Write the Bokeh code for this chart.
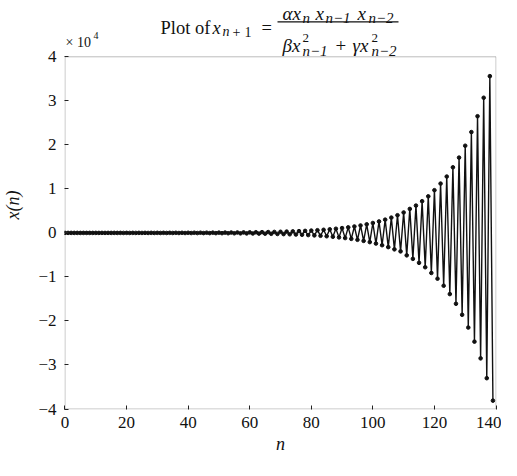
from bokeh.plotting import figure
from bokeh.models import Label, BoxAnnotation, FixedTicker, Range1d
from bokeh.embed import file_html
from bokeh.resources import INLINE

# ---- data ----
n_values = list(range(140))
x_values = [
    1.6, -1.7, 1.8, -2.0, 2.1, -2.3, 2.5, -2.6, 2.8, -3.1,
    3.3, -3.5, 3.8, -4.1, 4.4, -4.8, 5.1, -5.5, 6.0, -6.4,
    6.9, -7.4, 8.0, -8.6, 9.2, -9.9, 10.6, -11.4, 12.3, -13.2,
    14.2, -15.3, 16.4, -17.6, 19.0, -20.4, 21.9, -23.6, 25.3, -27.2,
    29.3, -31.5, 33.8, -36.4, 39.1, -42.0, 45.2, -48.6, 52.2, -56.1,
    60.3, -64.9, 69.7, -75.0, 80.6, -86.6, 93.1, -100, 108, -116,
    125, -134, 144, -155, 166, -179, 192, -207, 222, -239,
    257, -276, 297, -319, 343, -369, 397, -426, 458, -493,
    530, -569, 612, -658, 707, -760, 818, -879, 945, -1016,
    1092, -1174, 1262, -1357, 1458, -1568, 1685, -1812, 1948, -2094,
    2251, -2420, 2601, -2796, 3006, -3232, 3474, -3735, 4015, -4200,
    4640, -5100, 5450, -5900, 6200, -6800, 7200, -7800, 8300, -9100,
    9700, -10400, 11200, -12000, 12800, -13900, 14900, -16100, 17100, -18600,
    19800, -21500, 22900, -24700, 26500, -28500, 30700, -33000, 35600, -38100,
]
x_min, x_max = 0, 140
y_min, y_max = -40000, 40000
x_ticks = [0, 20, 40, 60, 80, 100, 120, 140]
y_ticks = [-40000, -30000, -20000, -10000, 0, 10000, 20000, 30000, 40000]
y_tick_labels = ["\u22124", "\u22123", "\u22122", "\u22121", "0", "1", "2", "3", "4"]

SERIF = "Liberation Serif"
W, H = 501, 460
BL, BR, BB = 63, 5, 51
FRAME_W = W - BL - BR
FRAME_H = H - BB               # frame reaches the top of the canvas
BOX_TOP = 56.3                 # canvas px where y_max sits
PADX = 0.5
py_per_unit = (FRAME_H - 0.5 - BOX_TOP) / (y_max - y_min)
px_per_unit = (FRAME_W - 2 * PADX) / (x_max - x_min)

x_range = Range1d(x_min - PADX / px_per_unit, x_max + PADX / px_per_unit)
y_range = Range1d(y_min - 0.5 / py_per_unit, y_max + BOX_TOP / py_per_unit)

p = figure(width=W, height=H, output_backend="svg", toolbar_location=None,
           title=None, x_range=x_range, y_range=y_range,
           min_border_left=BL, min_border_right=BR,
           min_border_top=0, min_border_bottom=BB)
p.background_fill_color = "white"
p.border_fill_color = "white"
p.outline_line_color = None
p.xgrid.visible = False
p.ygrid.visible = False

# plot box
p.add_layout(BoxAnnotation(left=x_min, right=x_max, bottom=y_min, top=y_max,
                           fill_color=None, line_color="#222222", line_width=1))

p.line(n_values, x_values, line_color="#111111", line_width=1.4)
p.scatter(n_values, x_values, size=3.6, color="#111111")

for ax in (p.xaxis[0], p.yaxis[0]):
    ax.axis_line_color = None
    ax.major_tick_in = 4
    ax.major_tick_out = 0
    ax.major_tick_line_color = "#222222"
    ax.minor_tick_line_color = None
    ax.major_label_text_font = SERIF
    ax.major_label_text_font_size = "17px"
    ax.major_label_text_color = "#111111"
    ax.axis_label_text_font = SERIF
    ax.axis_label_text_font_size = "18px"
    ax.axis_label_text_font_style = "italic"
    ax.axis_label_text_color = "#111111"

p.xaxis.ticker = FixedTicker(ticks=x_ticks)
p.xaxis.major_label_standoff = 7
p.xaxis.axis_label = "n"
p.xaxis.axis_label_standoff = 3

p.yaxis.ticker = FixedTicker(ticks=y_ticks)
p.yaxis.major_label_overrides = {t: s for t, s in zip(y_ticks, y_tick_labels)}
p.yaxis.major_label_standoff = 8
p.yaxis.axis_label = "x(n)"
p.yaxis.axis_label_standoff = 12

# page coords -> frame-relative screen coords
PAGE_FL = 8 + BL
PAGE_FB = 8 + FRAME_H


def sx(px):
    return px - PAGE_FL


def sy(py):
    return PAGE_FB - py


def lab(text, px, py, size, italic=False):
    p.add_layout(Label(x=sx(px), y=sy(py), x_units="screen", y_units="screen",
                       text=text, text_font=SERIF, text_font_size=f"{size}px",
                       text_font_style="italic" if italic else "normal",
                       text_color="#111111", text_baseline="alphabetic",
                       text_align="left"))


BIG, SUB = 18.5, 14
FB_BIG, FB_SUB = 19, 15
# title: Plot of x_{n+1} = (α x_n x_{n-1} x_{n-2}) / (β x_{n-1}^2 + γ x_{n-2}^2)
lab("Plot of", 167, 35, BIG)
lab("x", 219, 35, BIG, True)
lab("n", 229, 39, SUB, True)
lab("+", 239, 39, SUB)
lab("1", 251, 39, SUB)
lab("=", 268, 35, BIG)
# numerator
lab("\u03b1x", 289, 21, FB_BIG, True)
lab("n", 309, 25, FB_SUB, True)
lab("x", 322, 21, FB_BIG, True)
lab("n\u22121", 332, 25, FB_SUB, True)
lab("x", 364, 21, FB_BIG, True)
lab("n\u22122", 375, 25, FB_SUB, True)
# fraction bar
p.add_layout(BoxAnnotation(left=sx(284), right=sx(405), top=sy(28.8), bottom=sy(30.0),
                           left_units="screen", right_units="screen",
                           top_units="screen", bottom_units="screen",
                           fill_color="#111111", fill_alpha=1, line_color=None))
# denominator
lab("\u03b2x", 289, 53, FB_BIG, True)
lab("2", 309, 45, 13)
lab("n\u22121", 309, 58, FB_SUB, True)
lab("+", 342, 53, FB_BIG)
lab("\u03b3x", 359, 53, FB_BIG, True)
lab("2", 378, 45, 13)
lab("n\u22122", 378, 58, FB_SUB, True)

# multiplier
lab("\u00d7 10", 72, 50, 14)
lab("4", 100, 43, 10)

open("out.html", "w").write(file_html(p, INLINE))
